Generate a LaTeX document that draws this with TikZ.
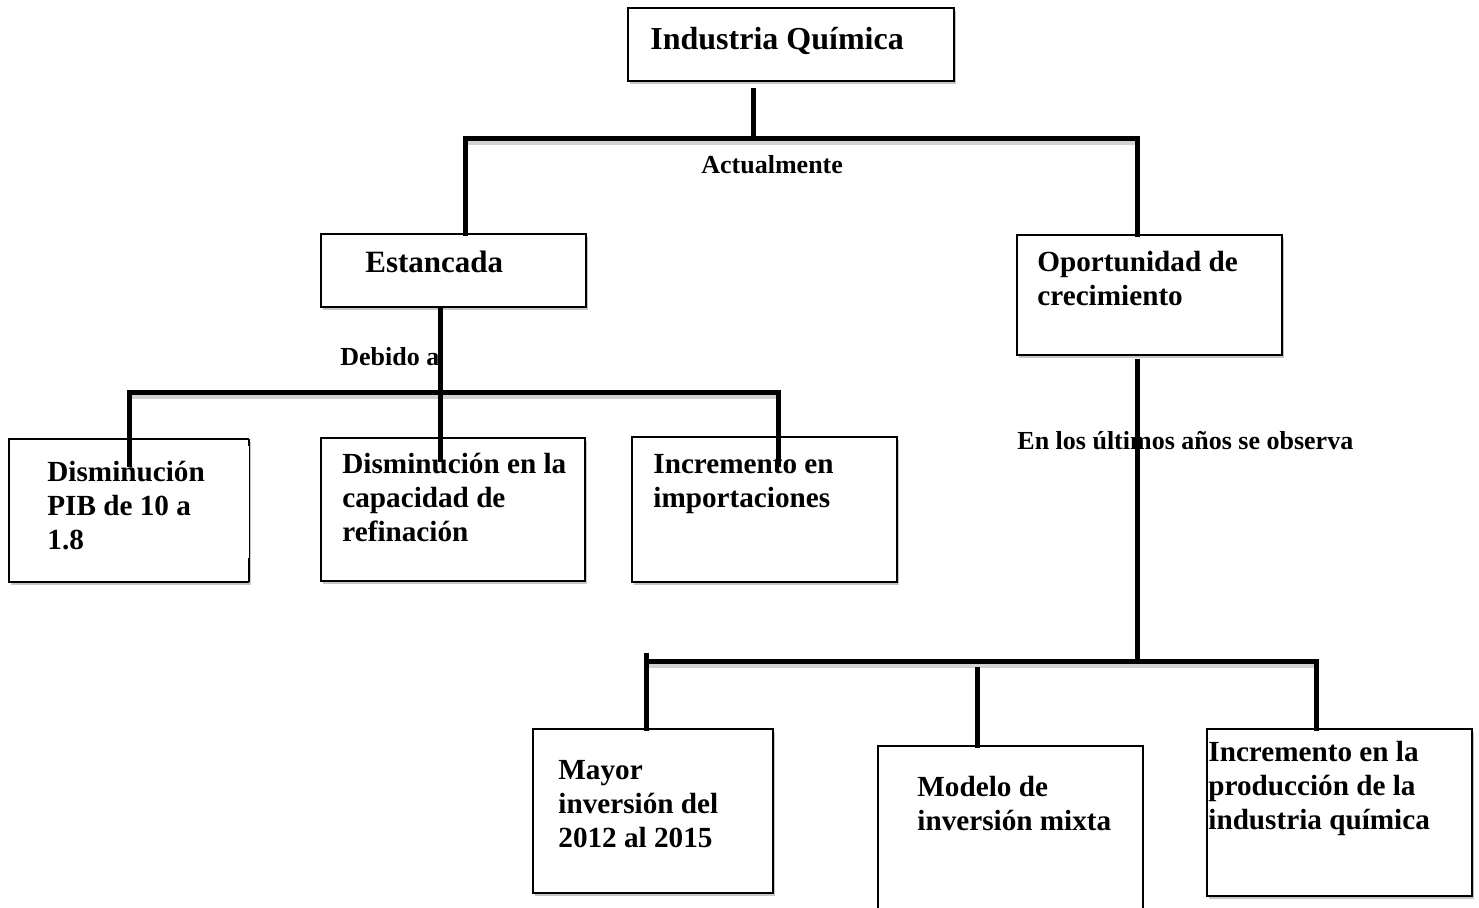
\documentclass[tikz,border=0pt]{standalone}
\usepackage{fontspec}
\setmainfont{Liberation Serif}
\usetikzlibrary{shadows}
\newcommand\ml[1]{\vtop{#1}}
\begin{document}
\begin{tikzpicture}[x=0.5pt,y=-0.5pt,
  boxbase/.style={inner sep=0pt, outer sep=0pt, anchor=north west, fill=white,
    drop shadow={shadow xshift=1pt, shadow yshift=-1.6pt, fill=gray!45, opacity=1}},
  box/.style={boxbase, draw, line width=1pt},
  txt/.style={inner sep=0pt, anchor=base west, font=\bfseries\fontsize{14.6}{17}\selectfont},
  lbl/.style={inner sep=0pt, anchor=base west, font=\bfseries\fontsize{13}{15}\selectfont},
  conn/.style={line width=2.5pt, line cap=rect},
  connshade/.style={line width=2.5pt, draw=gray!35}]
\useasboundingbox (0,0) rectangle (1479,908);

% ---- boxes ----
\node[box, minimum width=163pt, minimum height=36.5pt] (top) at (628,8) {};
\node[box, minimum width=132.5pt, minimum height=36.5pt] (est) at (321,234) {};
\node[box, minimum width=132.5pt, minimum height=60pt] (opo) at (1017,235) {};
\node[boxbase, minimum width=120pt, minimum height=71.5pt] (b1) at (9,439) {};
\draw[line width=1pt] (b1.north east) -- (b1.north west) -- (b1.south west) -- (b1.south east);
\draw[line width=0.5pt] (b1.north east) -- (b1.south east);
\draw[line width=1.2pt] (b1.north east) -- ++(0,7);
\draw[line width=1.2pt] (b1.south east) -- ++(0,-24);
\node[box, minimum width=132pt, minimum height=71.5pt] (b2) at (321,438) {};
\node[box, minimum width=132.5pt, minimum height=72.5pt] (b3) at (632,437) {};
\node[box, minimum width=120pt, minimum height=82pt] (m1) at (533,729) {};
\node[inner sep=0pt, outer sep=0pt, anchor=north west, fill=white, minimum width=132.5pt, minimum height=90pt] (m2) at (878,746) {};
\draw[line width=1pt] (m2.south west) -- (m2.north west) -- (m2.north east) -- (m2.south east);
\node[box, minimum width=132.5pt, minimum height=83.5pt] (m3) at (1207,729) {};

% ---- box texts ----
\node[txt, font=\bfseries\fontsize{16}{18}\selectfont] (t-top) at (650,50) {Industria Química};
\node[txt, font=\bfseries\fontsize{15.5}{18}\selectfont] (t-est) at (365,273) {Estancada};
\node[txt] (t-opo) at (1037,272) {\ml{\hbox{Oportunidad de}\hbox{crecimiento}}};
\node[txt] (t-b1) at (47,482) {\ml{\hbox{Disminución}\hbox{PIB de 10 a}\hbox{1.8}}};
\node[txt] (t-b2) at (342,474) {\ml{\hbox{Disminución en la}\hbox{capacidad de}\hbox{refinación}}};
\node[txt] (t-b3) at (653,474) {\ml{\hbox{Incremento en}\hbox{importaciones}}};
\node[txt] (t-m1) at (558,780) {\ml{\hbox{Mayor}\hbox{inversión del}\hbox{2012 al 2015}}};
\node[txt] (t-m2) at (917,797) {\ml{\hbox{Modelo de}\hbox{inversión mixta}}};
\node[txt] (t-m3) at (1208,762) {\ml{\hbox{Incremento en la}\hbox{producción de la}\hbox{industria química}}};

% ---- labels ----
\node[lbl] (l-act) at (701,174) {Actualmente};
\node[lbl] (l-deb) at (340,366) {Debido a};
\node[lbl] (l-ult) at (1017,450) {En los últimos años se observa};

% ---- connectors ----
\coordinate (s-top) at (753,91);
\coordinate (busA-l) at (465,139);
\coordinate (busA-r) at (1137,139);
\coordinate (busA-m) at (753,139);
\draw[connshade] ([yshift=-1.6pt]busA-l) -- ([yshift=-1.6pt]busA-r);
\draw[conn] (s-top) -- (busA-m);
\draw[conn] (busA-l) -- (busA-r);
\draw[conn] (busA-l) -- (busA-l |- est.north);
\draw[conn] (busA-r) -- (busA-r |- opo.north);

\coordinate (s-est) at (440,311);
\coordinate (e-b2) at (440,460);
\coordinate (busB-l) at (129,393);
\coordinate (busB-r) at (778,393);
\draw[connshade] ([yshift=-1.6pt]busB-l) -- ([yshift=-1.6pt]busB-r);
\draw[conn] (s-est) -- (e-b2);
\draw[conn] (busB-l) -- (busB-r);
\coordinate (e-b1) at (129,465);
\coordinate (e-b3) at (778,465);
\draw[conn] (busB-l) -- (e-b1);
\draw[conn] (busB-r) -- (e-b3);

\coordinate (s-opo) at (1137,362);
\coordinate (busC-m) at (1137,662);
\coordinate (busC-l) at (646,662);
\coordinate (busC-r) at (1316,662);
\draw[connshade] ([yshift=-1.6pt]busC-l) -- ([yshift=-1.6pt]busC-r);
\draw[conn] (s-opo) -- (busC-m);
\draw[conn] (busC-l) -- (busC-r);
\draw[conn] (646,656) -- (646,656 |- m1.north);
\coordinate (s-m2) at (977,670);
\draw[conn] (s-m2) -- (s-m2 |- m2.north);
\draw[conn] (busC-r) -- (busC-r |- m3.north);
\end{tikzpicture}
\end{document}
